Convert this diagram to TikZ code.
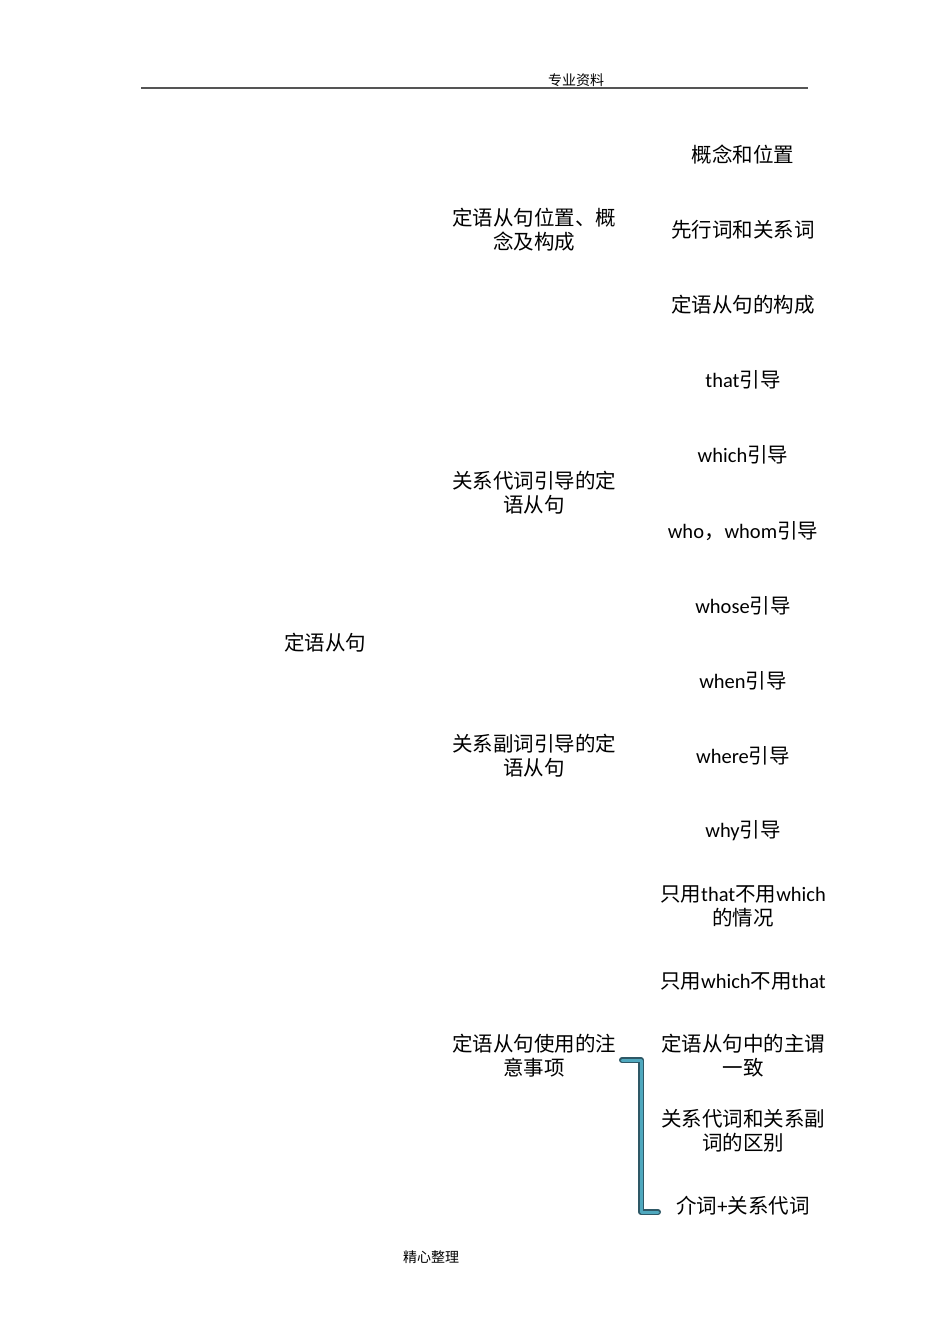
\documentclass[tikz,border=0pt]{standalone}
\usepackage{fontspec}
\setmainfont{Carlito}
\newfontfamily\cjk{Noto Sans CJK SC}
\newcommand{\C}[1]{{\cjk #1}}
\definecolor{brdark}{HTML}{2E5866}
\definecolor{brlight}{HTML}{4FA8BE}
\definecolor{hdrgray}{HTML}{555555}
\begin{document}
\begin{tikzpicture}[x=1pt,y=-1pt,
  lbl/.style={inner sep=0pt,align=center,font=\fontsize{20.5}{24}\selectfont},
  small/.style={inner sep=0pt,font=\fontsize{14}{16}\selectfont}]
\useasboundingbox (0,0) rectangle (950,1344);
% header / footer
\node[small] (hdr) at (576,80) {\C{专业资料}};
\draw[hdrgray,line width=2pt] (141,88) -- (808,88);
\node[small] (ftr) at (431,1257) {\C{精心整理}};
% root
\node[lbl] (root) at (325,643) {\C{定语从句}};
% level 1
\node[lbl] (a) at (534,230) {\C{定语从句位置、概}\\\C{念及构成}};
\node[lbl] (b) at (534,493) {\C{关系代词引导的定}\\\C{语从句}};
\node[lbl] (c) at (534,756) {\C{关系副词引导的定}\\\C{语从句}};
\node[lbl] (d) at (534,1056) {\C{定语从句使用的注}\\\C{意事项}};
% level 2
\node[lbl] (a1) at (743,155) {\C{概念和位置}};
\node[lbl] (a2) at (743,230) {\C{先行词和关系词}};
\node[lbl] (a3) at (743,305) {\C{定语从句的构成}};
\node[lbl] (b1) at (743,380) {that\C{引导}};
\node[lbl] (b2) at (743,455) {which\C{引导}};
\node[lbl] (b3) at (743,531) {who\C{，}whom\C{引导}};
\node[lbl] (b4) at (743,606) {whose\C{引导}};
\node[lbl] (c1) at (743,681) {when\C{引导}};
\node[lbl] (c2) at (743,756) {where\C{引导}};
\node[lbl] (c3) at (743,831) {why\C{引导}};
\node[lbl] (d1) at (743,906) {\C{只用}that\C{不用}which\\\C{的情况}};
\node[lbl] (d2) at (743,981) {\C{只用}which\C{不用}that};
\node[lbl] (d3) at (743,1056) {\C{定语从句中的主谓}\\\C{一致}};
\node[lbl] (d4) at (743,1131) {\C{关系代词和关系副}\\\C{词的区别}};
\node[lbl] (d5) at (743,1206) {\C{介词}+\C{关系代词}};
% bracket
\coordinate (bt) at (622,1060);
\coordinate (bb) at (658,1212);
\draw[brdark,line width=6pt,line join=round,line cap=round] (bt) -- (641,1060) -- (641,1212) -- (bb);
\draw[brlight,line width=3pt,line join=round,line cap=round] (bt) -- (641,1060) -- (641,1212) -- (bb);
\end{tikzpicture}
\end{document}
